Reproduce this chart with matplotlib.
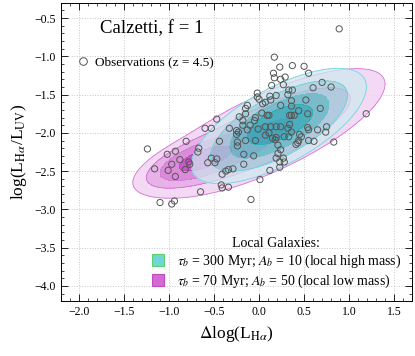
import numpy as np
import matplotlib
matplotlib.use('Agg')
import matplotlib.pyplot as plt
from matplotlib.patches import Patch
from matplotlib.lines import Line2D
from matplotlib.ticker import MultipleLocator

plt.rcParams['font.family'] = ['Liberation Serif', 'DejaVu Serif']
plt.rcParams['mathtext.fontset'] = 'stix'

# observed galaxies at z = 4.5
obs_dlog_ha = [0.89, 0.17, 0.23, 0.37, 0.50, 0.55, 0.16, 0.17, 0.29, 0.24, 0.70, 0.80, 0.60, 0.27,
               0.33, 0.37, 0.14, 0.32, 0.19, 0.12, -0.02, -0.02, 0.00, 0.04, 0.13, 0.07, 0.36, 0.36,
               0.24, 0.52, -0.13, -0.15, 0.03, 0.68, 1.19, 0.44, 0.34, 0.36, 0.39, 0.54, 0.09, 0.11,
               -0.22, -0.15, -0.04, -0.05, -0.47, -0.18, -0.18, -0.10, -0.33, -0.60, -0.53, -0.25,
               -0.23, -0.01, 0.07, 0.13, 0.19, 0.24, 0.34, 0.32, 0.36, 0.54, 0.55, 0.65, 0.75, 0.74,
               0.11, 0.15, 0.18, 0.19, 0.07, 0.28, 0.33, 0.45, 0.47, 0.44, 0.55, 0.61, 0.83, 0.41,
               0.43, -0.04, -0.15, -0.24, -0.24, -0.44, -0.81, 0.21, -0.17, -0.06, 0.21, 0.27, 0.19,
               0.23, 0.28, 0.23, 0.12, -0.17, -0.67, -0.68, -0.53, -0.49, -0.57, -0.47, -0.78, -0.77,
               -0.88, -0.93, -1.02, -0.97, -1.01, -0.93, -0.82, -1.24, -1.16, -0.65, -0.41, -0.34,
               -0.29, -0.37, -0.42, -0.41, -0.34, 0.01, -0.09, -1.10, -0.97, -0.94, -0.25, -0.13,
               0.24]
obs_log_ratio = [-0.64, -1.01, -1.14, -1.12, -1.13, -1.22, -1.22, -1.28, -1.27, -1.30, -1.34, -1.40,
                 -1.41, -1.37, -1.44, -1.44, -1.38, -1.50, -1.51, -1.52, -1.48, -1.53, -1.56, -1.62,
                 -1.57, -1.60, -1.58, -1.65, -1.64, -1.57, -1.64, -1.68, -1.74, -1.68, -1.75, -1.71,
                 -1.77, -1.77, -1.77, -1.75, -1.77, -1.77, -1.79, -1.75, -1.80, -1.84, -1.82, -1.84,
                 -1.90, -1.90, -1.94, -1.94, -1.94, -1.97, -1.99, -1.95, -1.92, -1.92, -1.92, -1.92,
                 -1.89, -1.94, -1.99, -1.93, -1.96, -1.96, -1.92, -1.99, -2.00, -2.07, -2.09, -2.06,
                 -2.03, -2.05, -2.05, -2.02, -2.05, -2.10, -2.10, -2.11, -2.12, -2.15, -2.13, -2.10,
                 -2.10, -2.12, -2.17, -2.11, -2.11, -2.16, -2.28, -2.30, -2.27, -2.33, -2.33, -2.38,
                 -2.38, -2.45, -2.49, -2.41, -2.20, -2.25, -2.33, -2.39, -2.39, -2.34, -2.38, -2.41,
                 -2.35, -2.24, -2.28, -2.41, -2.49, -2.57, -2.48, -2.21, -2.47, -2.77, -2.54, -2.48,
                 -2.47, -2.50, -2.68, -2.72, -2.71, -2.61, -2.87, -2.91, -2.93, -2.89, -2.02, -1.96,
                 -2.22]

# local galaxy models, described as sums of correlated gaussian components
hm_mean_x = [0.22, 0.24]
hm_mean_y = [-1.91, -1.86]
hm_sig_x = [0.40, 0.22]
hm_sig_y = [0.31, 0.13]
hm_rho = [0.68, 0.5]
hm_weight = [1.0, 0.5]
hm_levels = [0.035, 0.11, 0.27, 0.52]
hm_colors = ['#cfe8ee', '#9fd3da', '#55bfc2', '#17adae']

lm_mean_x = [0.10, -0.64]
lm_mean_y = [-2.00, -2.35]
lm_sig_x = [0.65, 0.28]
lm_sig_y = [0.42, 0.16]
lm_rho = [0.76, 0.65]
lm_weight = [0.35, 1.0]
lm_levels = [0.04, 0.11, 0.27, 0.66]
lm_colors = ['#f1d3f1', '#e3a5e3', '#d477d4', '#c03cc0']


def density(X, Y, mx, my, sx, sy, rho, w):
    Z = np.zeros_like(X)
    for i in range(len(mx)):
        dx = (X - mx[i]) / sx[i]
        dy = (Y - my[i]) / sy[i]
        q = (dx**2 - 2 * rho[i] * dx * dy + dy**2) / (1 - rho[i]**2)
        Z += w[i] * np.exp(-0.5 * q)
    return Z


fig = plt.figure(figsize=(4.15, 3.56), dpi=100)
ax = fig.add_axes([0.147, 0.154, 0.846, 0.838])

xx, yy = np.meshgrid(np.linspace(-2.2, 1.7, 400), np.linspace(-4.2, -0.3, 400))
z_lm = density(xx, yy, lm_mean_x, lm_mean_y, lm_sig_x, lm_sig_y, lm_rho, lm_weight)
z_hm = density(xx, yy, hm_mean_x, hm_mean_y, hm_sig_x, hm_sig_y, hm_rho, hm_weight)

for z, lev, cols, ec, a in [(z_lm, lm_levels, lm_colors, '#d060d0', 0.85),
                            (z_hm, hm_levels, hm_colors, '#5cd0dc', 0.75)]:
    zmax = z.max()
    bounds = [f * zmax for f in lev] + [zmax * 1.01]
    ax.contourf(xx, yy, z, levels=bounds, colors=cols, alpha=a, zorder=2)
    ax.contour(xx, yy, z, levels=bounds[:2], colors=[ec], linewidths=0.6, alpha=0.8, zorder=2)

ax.scatter(obs_dlog_ha, obs_log_ratio, s=20, facecolors='none', edgecolors='#555555',
           linewidths=0.7, zorder=4)

ax.set_xlim(-2.2, 1.7)
ax.set_ylim(-4.2, -0.3)
ax.xaxis.set_major_locator(MultipleLocator(0.5))
ax.xaxis.set_minor_locator(MultipleLocator(0.1))
ax.yaxis.set_major_locator(MultipleLocator(0.5))
ax.yaxis.set_minor_locator(MultipleLocator(0.1))
ax.tick_params(which='both', direction='in', top=True, right=True, labelsize=8.5)
ax.tick_params(which='major', length=5, width=0.6)
ax.tick_params(which='minor', length=2.5, width=0.5)
for s in ax.spines.values():
    s.set_linewidth(0.7)
ax.grid(True, which='major', linestyle=':', color='#c8c8c8', linewidth=0.7, zorder=0)
ax.set_axisbelow(True)

ax.set_xlabel(r'$\Delta$log(L$_{\mathrm{H}\alpha}$)', fontsize=12.5)
ax.set_ylabel(r'log(L$_{\mathrm{H}\alpha}$/L$_{\mathrm{UV}}$)', fontsize=12.5)

ax.text(0.111, 0.913, 'Calzetti, f = 1', transform=ax.transAxes, fontsize=13.5, va='center')

obs_handle = Line2D([], [], marker='o', linestyle='none', markerfacecolor='none',
                    markeredgecolor='#555555', markersize=5.5, markeredgewidth=0.7)
leg1 = ax.legend([obs_handle], ['Observations (z = 4.5)'], loc='upper left',
                 bbox_to_anchor=(0.0, 0.86), frameon=False, fontsize=9.5,
                 handletextpad=0.2, handlelength=1.5)
ax.add_artist(leg1)

local_handles = [Patch(facecolor='#6fd6d6', edgecolor='#5fcf70', linewidth=0.8),
                 Patch(facecolor='#d46bd4', edgecolor='#c04ac0', linewidth=0.8)]
local_labels = [r'$\tau_b$ = 300 Myr; $A_b$ = 10 (local high mass)',
                r'$\tau_b$ = 70 Myr; $A_b$ = 50 (local low mass)']
leg2 = ax.legend(local_handles, local_labels, loc='lower right', frameon=False, fontsize=10,
                 title='Local Galaxies:', title_fontsize=10, handlelength=0.9, handleheight=0.9,
                 handletextpad=0.9, labelspacing=0.2, borderaxespad=0.5, borderpad=0.3)

fig.savefig('out.png', dpi=100)
